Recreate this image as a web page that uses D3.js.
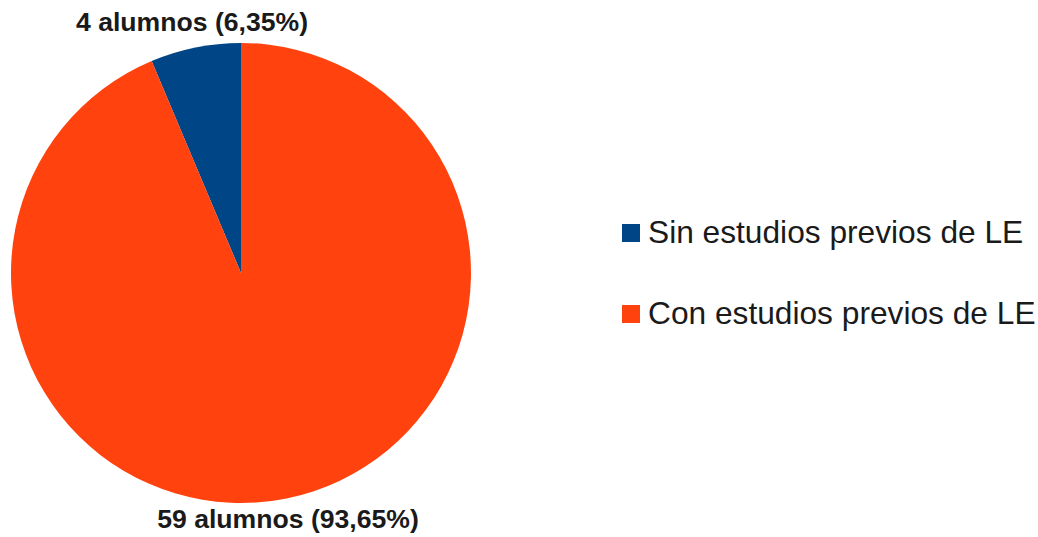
<!DOCTYPE html>
<html>
<head>
<meta charset="utf-8">
<script src="https://cdn.jsdelivr.net/npm/d3@7"></script>
<style>
  body { margin: 0; background: #fff; }
  text { font-family: "Liberation Sans", Arial, sans-serif; }
</style>
</head>
<body>
<div id="chart"></div>
<script>
// ------ Data ---------------//
var categories = ["Sin estudios previos de LE", "Con estudios previos de LE"];
var counts = [4, 59];
var pctLabels = ["6,35%", "93,65%"];
var colours = ["#004586", "#ff420e"];

var width = 1038, height = 537;

var svg = d3.select("#chart").append("svg")
    .attr("width", width)
    .attr("height", height);

svg.append("rect").attr("width", width).attr("height", height).attr("fill", "#fff");

// ------ Pie ---------------//
var cx = 241, cy = 273, radius = 230;

// first slice goes counter-clockwise from 12 o'clock, like LibreOffice
var pie = d3.pie()
    .sort(null)
    .value(d => d)
    .startAngle(0)
    .endAngle(-2 * Math.PI);

var arcs = pie(counts);

var arc = d3.arc().innerRadius(0).outerRadius(radius);

var g = svg.append("g").attr("transform", `translate(${cx},${cy})`);

g.selectAll("path")
  .data(arcs)
  .enter().append("path")
    .attr("d", arc)
    .attr("fill", (d, i) => colours[i]);

// ------ Slice labels (outside the pie) ---------------//
var labelPos = [
  {x: 192, y: 31},
  {x: 288, y: 528}
];

svg.selectAll("text.slice")
  .data(arcs)
  .enter().append("text")
    .attr("class", "slice")
    .attr("x", (d, i) => labelPos[i].x)
    .attr("y", (d, i) => labelPos[i].y)
    .attr("text-anchor", "middle")
    .attr("font-weight", "bold")
    .attr("font-size", 26.6)
    .attr("fill", "#1a1a1a")
    .text((d, i) => `${counts[i]} alumnos (${pctLabels[i]})`);

// ------ Legend ---------------//
var legend = svg.append("g").attr("transform", "translate(622,224)");

var item = legend.selectAll("g")
  .data(categories)
  .enter().append("g")
    .attr("transform", (d, i) => `translate(0,${i * 81})`);

item.append("rect")
    .attr("width", 18).attr("height", 18)
    .attr("fill", (d, i) => colours[i]);

item.append("text")
    .attr("x", 26)
    .attr("y", 19)
    .attr("font-size", 31.7)
    .attr("fill", "#1a1a1a")
    .text(d => d);
</script>
</body>
</html>
